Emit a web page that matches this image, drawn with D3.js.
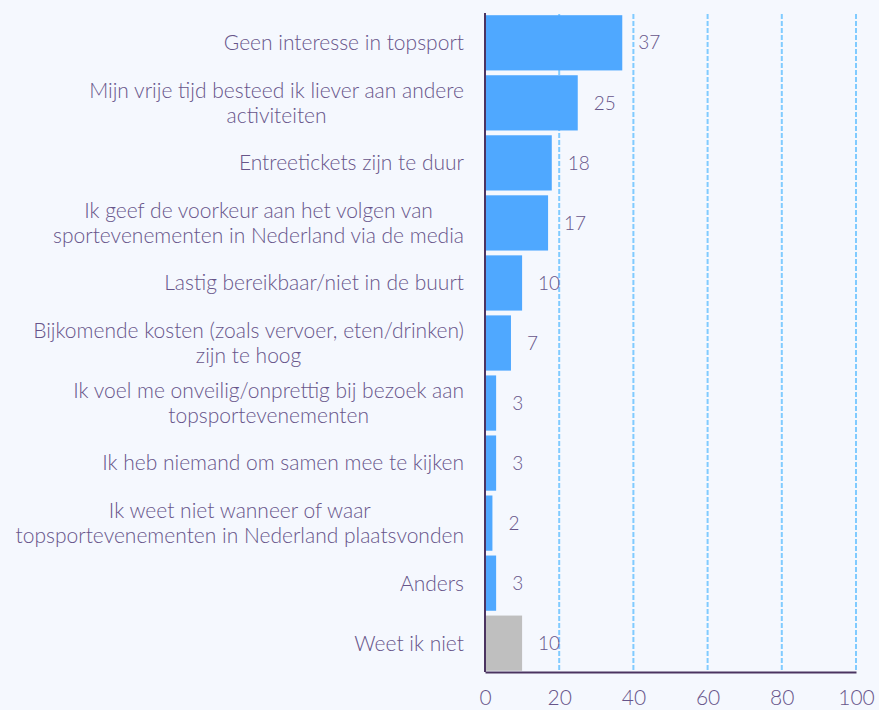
<!DOCTYPE html>
<html>
<head>
<meta charset="utf-8">
<script src="https://cdn.jsdelivr.net/npm/d3@7"></script>
<style>
  body { margin: 0; background: #f5f8fe; }
  svg { display: block; font-family: Lato, "Open Sans", sans-serif; }
</style>
</head>
<body>
<svg class="chart"></svg>
<script>
// antwoorden, elk label als regels
var categories = [
  ['Geen interesse in topsport'],
  ['Mijn vrije tijd besteed ik liever aan andere', 'activiteiten'],
  ['Entreetickets zijn te duur'],
  ['Ik geef de voorkeur aan het volgen van', 'sportevenementen in Nederland via de media'],
  ['Lastig bereikbaar/niet in de buurt'],
  ['Bijkomende kosten (zoals vervoer, eten/drinken)', 'zijn te hoog'],
  ['Ik voel me onveilig/onprettig bij bezoek aan', 'topsportevenementen'],
  ['Ik heb niemand om samen mee te kijken'],
  ['Ik weet niet wanneer of waar', 'topsportevenementen in Nederland plaatsvonden'],
  ['Anders'],
  ['Weet ik niet']
];
var values = [37, 25, 18, 17, 10, 7, 3, 3, 2, 3, 10];
var xTicks = [0, 20, 40, 60, 80, 100];

var blue = '#4fa8ff', grey = '#bfbfbf';
var textColor = '#67558a';

var width = 879, height = 710;
var margin = {top: 14, right: 23, bottom: 38, left: 485};
var w = width - margin.left - margin.right,
    h = height - margin.top - margin.bottom;

var svg = d3.select('.chart')
    .attr('width', width)
    .attr('height', height);

var chart = svg.append('g')
    .attr('transform', 'translate(' + margin.left + ',' + margin.top + ')');

var x = d3.scaleLinear().domain([0, 100]).range([0, w]);
var y = d3.scaleBand()
    .domain(d3.range(categories.length))
    .range([0, h])
    .paddingInner(0.08)
    .paddingOuter(0.02);

// gridlijnen
chart.selectAll('line.grid')
    .data(xTicks.slice(1))
  .enter().append('line')
    .attr('class', 'grid')
    .attr('x1', function(d) { return x(d); })
    .attr('x2', function(d) { return x(d); })
    .attr('y1', 0)
    .attr('y2', h)
    .attr('stroke', '#80cbff')
    .attr('stroke-width', 2)
    .attr('stroke-dasharray', '5,2');

// balken
chart.selectAll('rect.bar')
    .data(values)
  .enter().append('rect')
    .attr('class', 'bar')
    .attr('x', x(0))
    .attr('y', function(d, i) { return y(i); })
    .attr('width', function(d) { return x(d) - x(0); })
    .attr('height', y.bandwidth())
    .attr('fill', function(d, i) { return i == values.length - 1 ? grey : blue; });

// waarden
chart.selectAll('text.value')
    .data(values)
  .enter().append('text')
    .attr('class', 'value')
    .attr('x', function(d) { return x(d) + 16; })
    .attr('y', function(d, i) { return y(i) + y.bandwidth() / 2; })
    .attr('dy', '0.35em')
    .attr('fill', textColor)
    .style('font-size', '19px')
    .style('font-weight', 300)
    .text(function(d) { return d; });

// categorieën: regels gecentreerd, rechterkant tegen de as
var labels = chart.selectAll('text.cat')
    .data(categories)
  .enter().append('text')
    .attr('class', 'cat')
    .attr('text-anchor', 'middle')
    .attr('fill', textColor)
    .style('font-size', '21px')
    .style('font-weight', 300);

labels.selectAll('tspan')
    .data(function(d) { return d; })
  .enter().append('tspan')
    .attr('x', 0)
    .attr('y', function(d, j, nodes) {
      var n = nodes.length;
      return (j - (n - 1) / 2) * 25;
    })
    .attr('dy', '0.35em')
    .text(function(d) { return d; });

labels.attr('transform', function(d, i) {
  var maxW = d3.max(d3.select(this).selectAll('tspan').nodes(), function(t) {
    return t.getComputedTextLength();
  });
  return 'translate(' + (-21 - maxW / 2) + ',' + (y(i) + y.bandwidth() / 2) + ')';
});

// assen
var xAxis = d3.axisBottom(x).tickValues(xTicks).tickSize(0).tickPadding(18);
var gx = chart.append('g')
    .attr('transform', 'translate(0,' + h + ')')
    .call(xAxis);
gx.select('.domain').attr('stroke', '#4b3461').attr('stroke-width', 2);
gx.selectAll('text')
    .attr('fill', textColor)
    .style('font-size', '21px')
    .style('font-weight', 300)
    .style('font-family', 'Lato, sans-serif');

chart.append('line')
    .attr('x1', 0).attr('x2', 0)
    .attr('y1', -1).attr('y2', h)
    .attr('stroke', '#4b3461')
    .attr('stroke-width', 2);
</script>
</body>
</html>
